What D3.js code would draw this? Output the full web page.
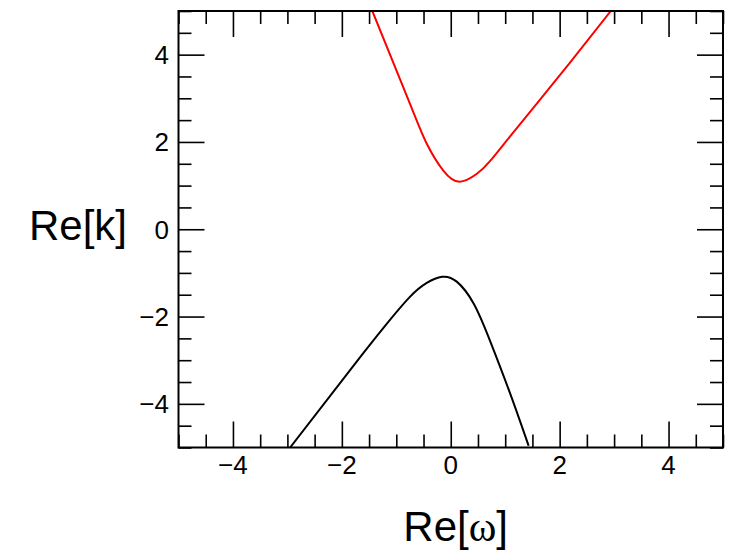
<!DOCTYPE html>
<html>
<head>
<meta charset="utf-8">
<script src="https://cdn.jsdelivr.net/npm/d3@7"></script>
<style>
  html, body { margin: 0; padding: 0; background: #fff; }
  svg { display: block; }
  text { font-family: "Liberation Sans", Arial, Helvetica, sans-serif; fill: #000; }
</style>
</head>
<body>
<svg id="chart" width="742" height="550"></svg>
<script>
// Upper branch (red) of Re[k] versus Re[ω]
const redOmega = [-1.44, -0.75, -0.44, -0.14, 0.16, 0.48, 0.72, 1.09, 1.58, 2.19, 2.94];
const redK     = [ 5.00,  2.88,  1.96,  1.35, 1.09, 1.27, 1.56, 2.13, 2.88, 3.82, 5.00];

// Lower branch (black)
const blackOmega = [-2.95, -1.82, -1.21, -0.75, -0.44, -0.16,  0.11,  0.42,  0.72,  1.09,  1.43];
const blackK     = [-5.00, -3.18, -2.22, -1.55, -1.23, -1.09, -1.20, -1.70, -2.55, -3.76, -4.96];

// Axis ranges and ticks
const xDomain = [-5, 5];
const yDomain = [-5, 5];
const majorTicks = [-4, -2, 0, 2, 4];
const minorTicks = [-5, -4.5, -3.5, -3, -2.5, -1.5, -1, -0.5, 0.5, 1, 1.5, 2.5, 3, 3.5, 4.5, 5];

const xTitle = "Re[";
const xTitleGreek = "ω";
const yTitle = "Re[k]";

const frame = { left: 178.5, right: 723, top: 11, bottom: 447.5 };
const svg = d3.select("#chart");

const x = d3.scaleLinear().domain(xDomain).range([frame.left, frame.right]);
const y = d3.scaleLinear().domain(yDomain).range([frame.bottom, frame.top]);

const majorLen = 26, minorLen = 13;

function tickAxis(axisFn, scale, transform, values, len) {
  const g = svg.append("g")
    .attr("transform", transform)
    .call(axisFn(scale).tickValues(values).tickSize(len).tickFormat(""));
  g.select(".domain").remove();
  g.selectAll(".tick line").attr("stroke", "#000").attr("stroke-width", 1.6);
  return g;
}

// Inward ticks on all four sides
tickAxis(d3.axisTop, x, `translate(0,${frame.bottom})`, majorTicks, majorLen);
tickAxis(d3.axisTop, x, `translate(0,${frame.bottom})`, minorTicks, minorLen);
tickAxis(d3.axisBottom, x, `translate(0,${frame.top})`, majorTicks, majorLen);
tickAxis(d3.axisBottom, x, `translate(0,${frame.top})`, minorTicks, minorLen);
tickAxis(d3.axisRight, y, `translate(${frame.left},0)`, majorTicks, majorLen);
tickAxis(d3.axisRight, y, `translate(${frame.left},0)`, minorTicks, minorLen);
tickAxis(d3.axisLeft, y, `translate(${frame.right},0)`, majorTicks, majorLen);
tickAxis(d3.axisLeft, y, `translate(${frame.right},0)`, minorTicks, minorLen);

const fmt = d3.format("d");

// Tick labels
svg.append("g").selectAll("text").data(majorTicks).join("text")
  .attr("x", d => x(d))
  .attr("y", 474)
  .attr("text-anchor", "middle")
  .style("font-size", "26px")
  .text(d => fmt(d));

svg.append("g").selectAll("text").data(majorTicks).join("text")
  .attr("x", 169)
  .attr("y", d => y(d))
  .attr("dy", "0.36em")
  .attr("text-anchor", "end")
  .style("font-size", "26px")
  .text(d => fmt(d));

// Curves: smooth natural splines through the sampled points
const line = d3.line()
  .x(d => x(d[0]))
  .y(d => y(d[1]))
  .curve(d3.curveNatural);

svg.append("clipPath").attr("id", "plotClip")
  .append("rect")
  .attr("x", frame.left).attr("y", frame.top)
  .attr("width", frame.right - frame.left)
  .attr("height", frame.bottom - frame.top);

const plot = svg.append("g").attr("clip-path", "url(#plotClip)");

plot.append("path")
  .datum(d3.zip(redOmega, redK))
  .attr("fill", "none")
  .attr("stroke", "#ff0000")
  .attr("stroke-width", 2)
  .attr("d", line);

plot.append("path")
  .datum(d3.zip(blackOmega, blackK))
  .attr("fill", "none")
  .attr("stroke", "#000")
  .attr("stroke-width", 2)
  .attr("d", line);

// Frame
svg.append("rect")
  .attr("x", frame.left).attr("y", frame.top)
  .attr("width", frame.right - frame.left)
  .attr("height", frame.bottom - frame.top)
  .attr("fill", "none")
  .attr("stroke", "#000")
  .attr("stroke-width", 2);

// Axis titles
const xt = svg.append("text")
  .attr("x", 508)
  .attr("y", 541)
  .attr("text-anchor", "end")
  .style("font-size", "42px");
xt.append("tspan").text(xTitle);
xt.append("tspan").style("font-family", "'Liberation Serif', 'DejaVu Serif', serif").text(xTitleGreek);
xt.append("tspan").text("]");

svg.append("text")
  .attr("x", 127)
  .attr("y", 240)
  .attr("text-anchor", "end")
  .style("font-size", "42px")
  .text(yTitle);
</script>
</body>
</html>
